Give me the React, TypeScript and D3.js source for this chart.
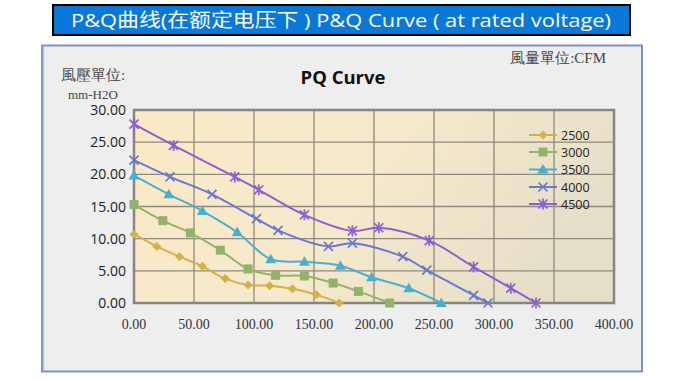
import React from "react";
import * as d3 from "d3";

const seriesNames = ["2500", "3000", "3500", "4000", "4500"];
const colors = ["#d2b04c", "#93b36a", "#4aaed0", "#6a78cf", "#8a5fd0"];
const symbols = ["diamond", "square", "triangle", "x", "star"];

const q2500 = [0, 19, 38, 57, 76, 95, 113, 132, 152, 171];
const p2500 = [10.7, 8.8, 7.2, 5.7, 3.8, 2.8, 2.7, 2.2, 1.3, 0];
const q3000 = [0, 24, 47, 72, 95, 118, 142, 166, 187, 213];
const p3000 = [15.3, 12.8, 10.9, 8.2, 5.3, 4.3, 4.2, 3.1, 1.8, 0];
const q3500 = [0, 29, 57, 86, 114, 142, 172, 198, 229, 256];
const p3500 = [19.8, 16.9, 14.3, 11.0, 6.8, 6.4, 5.8, 4.0, 2.3, 0];
const q4000 = [0, 30, 65, 102, 120, 162, 182, 224, 244, 283, 295];
const p4000 = [22.2, 19.6, 16.9, 13.1, 11.3, 8.8, 9.3, 7.2, 5.1, 1.2, 0];
const q4500 = [0, 33, 84, 104, 142, 182, 204, 246, 283, 314, 335];
const p4500 = [27.8, 24.5, 19.6, 17.6, 13.7, 11.2, 11.7, 9.7, 5.6, 2.3, 0];

const xTicks = [0, 50, 100, 150, 200, 250, 300, 350, 400];
const yTicks = [0, 5, 10, 15, 20, 25, 30];

const allQ = [q2500, q3000, q3500, q4000, q4500];
const allP = [p2500, p3000, p3500, p4000, p4500];

const x = d3.scaleLinear().domain([0, 400]).range([134, 614]);
const y = d3.scaleLinear().domain([0, 30]).range([303, 110]);

function Marker({ kind, cx, cy, color }: { kind: string; cx: number; cy: number; color: string }) {
  if (kind === "diamond") {
    const s = 4.5;
    return <path d={`M${cx},${cy - s}L${cx + s},${cy}L${cx},${cy + s}L${cx - s},${cy}Z`} fill={color} />;
  }
  if (kind === "square") {
    return <rect x={cx - 4.5} y={cy - 4.5} width={9} height={9} fill={color} />;
  }
  if (kind === "triangle") {
    return <path d={`M${cx},${cy - 5.5}L${cx + 5.5},${cy + 4}L${cx - 5.5},${cy + 4}Z`} fill={color} />;
  }
  if (kind === "x") {
    const s = 4.5;
    return (
      <path d={`M${cx - s},${cy - s}L${cx + s},${cy + s}M${cx + s},${cy - s}L${cx - s},${cy + s}`} stroke={color} strokeWidth={1.7} />
    );
  }
  const s = 4.5;
  return (
    <path
      d={`M${cx - s},${cy - s}L${cx + s},${cy + s}M${cx + s},${cy - s}L${cx - s},${cy + s}M${cx},${cy - s - 1}L${cx},${cy + s + 1}`}
      stroke={color}
      strokeWidth={1.7}
    />
  );
}

export default function App() {
  const line = d3
    .line<[number, number]>()
    .x((d) => x(d[0]))
    .y((d) => y(d[1]))
    .curve(d3.curveCatmullRom.alpha(0.5));

  const serif = "'Liberation Serif', 'DejaVu Serif', serif";
  const sans = "'Open Sans', 'Noto Sans', sans-serif";
  const legendY = [135, 152, 169.5, 187, 204];

  return (
    <svg width={680} height={380} style={{ position: "absolute", left: 0, top: 0, background: "#ffffff" }}>
      <defs>
        <linearGradient id="plotbg" x1="0" y1="0" x2="1" y2="0.3">
          <stop offset="0" stopColor="#fce9c6" />
          <stop offset="0.55" stopColor="#f6e9cc" />
          <stop offset="1" stopColor="#e6dfc8" />
        </linearGradient>
      </defs>
      {/* title banner */}
      <rect x={53} y={5} width={577} height={30} fill="#0a78d8" stroke="#000" strokeWidth={2} />
      <text
        x={341}
        y={27}
        textAnchor="middle"
        fill="#ffffff"
        fontSize={19}
        fontFamily="'Open Sans', 'Noto Sans CJK SC', sans-serif"
        textLength={540}
        lengthAdjust="spacingAndGlyphs"
      >
        P&amp;Q曲线(在额定电压下 ) P&amp;Q Curve ( at rated voltage)
      </text>

      {/* panel */}
      <rect x={42} y={45.5} width={600} height={326} fill="#eeeeee" stroke="#7d95bd" strokeWidth={2} />
      <line x1={43.5} y1={47} x2={43.5} y2={370} stroke="#b7c3d8" strokeWidth={1.5} />

      {/* plot area */}
      <rect x={x(0)} y={y(30)} width={x(400) - x(0)} height={y(0) - y(30)} fill="url(#plotbg)" />
      {xTicks.slice(1, -1).map((t) => (
        <line key={"gx" + t} x1={x(t)} x2={x(t)} y1={y(30)} y2={y(0)} stroke="#8e8a7e" strokeWidth={1.3} />
      ))}
      {yTicks.slice(1, -1).map((t) => (
        <line key={"gy" + t} x1={x(0)} x2={x(400)} y1={y(t)} y2={y(t)} stroke="#8e8a7e" strokeWidth={1.3} />
      ))}
      <rect
        x={x(0)}
        y={y(30)}
        width={x(400) - x(0)}
        height={y(0) - y(30)}
        fill="none"
        stroke="#878580"
        strokeWidth={2.5}
      />

      {/* series */}
      {allQ.map((qs, i) => {
        const pts: [number, number][] = qs.map((q, j) => [q, allP[i][j]]);
        return (
          <g key={"s" + i}>
            <path d={line(pts) || ""} fill="none" stroke={colors[i]} strokeWidth={2} />
            {pts.map((p, j) => (
              <Marker key={j} kind={symbols[i]} cx={x(p[0])} cy={y(p[1])} color={colors[i]} />
            ))}
          </g>
        );
      })}

      {/* axes labels */}
      {yTicks.map((t) => (
        <text key={"yl" + t} x={126} y={y(t) + 5} textAnchor="end" fontSize={14} fontFamily={sans} fill="#222">
          {t.toFixed(2)}
        </text>
      ))}
      {xTicks.map((t) => (
        <text key={"xl" + t} x={x(t)} y={329} textAnchor="middle" fontSize={14} fontFamily={serif} fill="#333">
          {t.toFixed(2)}
        </text>
      ))}

      {/* titles */}
      <text x={343} y={84} textAnchor="middle" fontSize={18.5} fontWeight="bold" fontFamily={sans} fill="#111">
        PQ Curve
      </text>
      <text x={61} y={80} fontSize={15} fontFamily={serif} fill="#444">
        風壓單位:
      </text>
      <text x={68} y={98.5} fontSize={13} fontFamily={serif} fill="#444">
        mm-H2O
      </text>
      <text x={606} y={63} textAnchor="end" fontSize={15} fontFamily={serif} fill="#444">
        風量單位:CFM
      </text>

      {/* legend */}
      {seriesNames.map((n, i) => (
        <g key={"lg" + i}>
          <line x1={529} x2={557} y1={legendY[i]} y2={legendY[i]} stroke={colors[i]} strokeWidth={2} />
          <Marker kind={symbols[i]} cx={543} cy={legendY[i]} color={colors[i]} />
          <text x={561} y={legendY[i] + 4.5} fontSize={12.5} fontFamily={sans} fill="#222">
            {n}
          </text>
        </g>
      ))}
    </svg>
  );
}
